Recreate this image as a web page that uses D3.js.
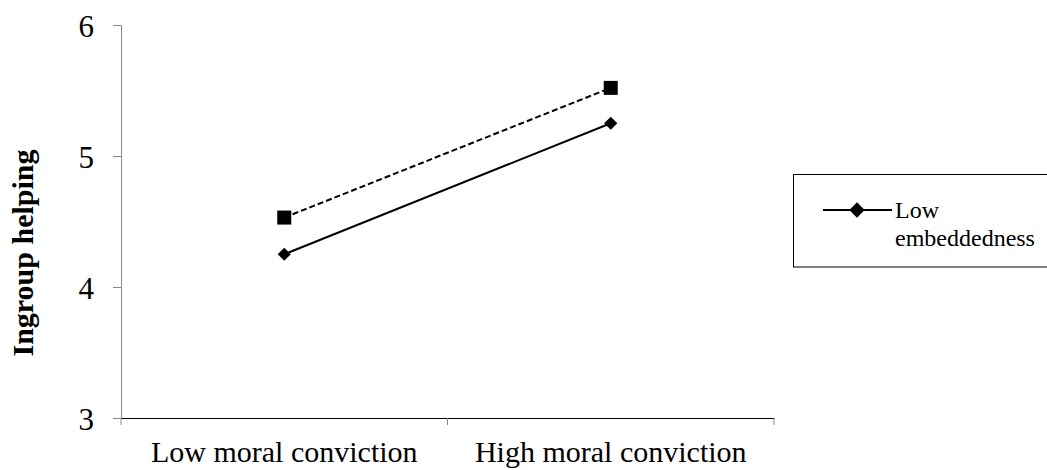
<!DOCTYPE html>
<html><head><meta charset="utf-8">
<script src="https://cdn.jsdelivr.net/npm/d3@7"></script>
<style>body{margin:0;background:#fff}svg{display:block}</style>
</head><body>
<script>
const categories = ["Low moral conviction", "High moral conviction"];
const lowEmbeddedness = [4.25, 5.25];
const highEmbeddedness = [4.53, 5.52];
const yTicks = [3, 4, 5, 6];
const legendLabels = ["Low", "embeddedness"];

const W = 1047, H = 470;
const svg = d3.select("body").append("svg").attr("width", W).attr("height", H);
const mLeft = 121, mRight = 774, mTop = 25, mBottom = 418;

const x = d3.scaleBand().domain(categories).range([mLeft, mRight]);
const y = d3.scaleLinear().domain([3, 6]).range([mBottom, mTop]);

// y axis
const ya = svg.append("g").attr("transform", `translate(${mLeft},0)`)
  .call(d3.axisLeft(y).tickValues(yTicks).tickSize(8).tickPadding(19).tickFormat(d3.format("d")));
ya.select(".domain").attr("stroke", "#888");
ya.selectAll(".tick line").attr("stroke", "#888");
ya.selectAll(".tick text").attr("font-family", "Liberation Serif").attr("font-size", 31).attr("fill", "#000").attr("dy", "0.36em");

// x axis
const xa = svg.append("g").attr("transform", `translate(0,${mBottom})`)
  .call(d3.axisBottom(x).tickSize(0));
xa.select(".domain").attr("stroke", "#000");
xa.selectAll(".tick text").attr("font-family", "Liberation Serif").attr("font-size", 30).attr("fill", "#000")
  .attr("y", 44).attr("dy", 0);
const bounds = [mLeft, x(categories[1]), mRight];
svg.selectAll(".xb").data(bounds).enter().append("line")
  .attr("x1", d => d).attr("x2", d => d).attr("y1", mBottom).attr("y2", mBottom + 7)
  .attr("stroke", "#888");

// y label
svg.append("text").attr("transform", `translate(33,253) rotate(-90)`)
  .attr("text-anchor", "middle").attr("font-family", "Liberation Serif").attr("font-weight", "bold")
  .attr("font-size", 30).text("Ingroup helping");

const cx = d => x(d) + x.bandwidth() / 2;
const line = d3.line().x((d, i) => cx(categories[i])).y(d => y(d));

svg.append("path").datum(highEmbeddedness).attr("d", line).attr("fill", "none")
  .attr("stroke", "#000").attr("stroke-width", 2).attr("stroke-dasharray", "6,3");
svg.append("path").datum(lowEmbeddedness).attr("d", line).attr("fill", "none")
  .attr("stroke", "#000").attr("stroke-width", 2);

svg.selectAll(".sq").data(highEmbeddedness).enter().append("rect")
  .attr("x", (d, i) => cx(categories[i]) - 7).attr("y", d => y(d) - 7)
  .attr("width", 14).attr("height", 14).attr("fill", "#000");
const diamond = d3.symbol().type(d3.symbolDiamond2).size(110);
svg.selectAll(".dm").data(lowEmbeddedness).enter().append("path")
  .attr("d", diamond)
  .attr("transform", (d, i) => `translate(${cx(categories[i])},${y(d)})`).attr("fill", "#000");

// legend
svg.append("rect").attr("x", 793.5).attr("y", 174.5).attr("width", 270).attr("height", 92.5)
  .attr("fill", "#fff").attr("stroke", "#000").attr("stroke-width", 1);
svg.append("line").attr("x1", 823).attr("x2", 892).attr("y1", 210).attr("y2", 210)
  .attr("stroke", "#000").attr("stroke-width", 2);
svg.append("path").attr("d", d3.symbol().type(d3.symbolDiamond2).size(150))
  .attr("transform", "translate(857,210)").attr("fill", "#000");
const lt = svg.append("text").attr("font-family", "Liberation Serif").attr("font-size", 24).attr("fill", "#000");
legendLabels.forEach((s, i) => lt.append("tspan").attr("x", 895).attr("y", 218 + i * 28).text(s));
</script>
</body></html>
